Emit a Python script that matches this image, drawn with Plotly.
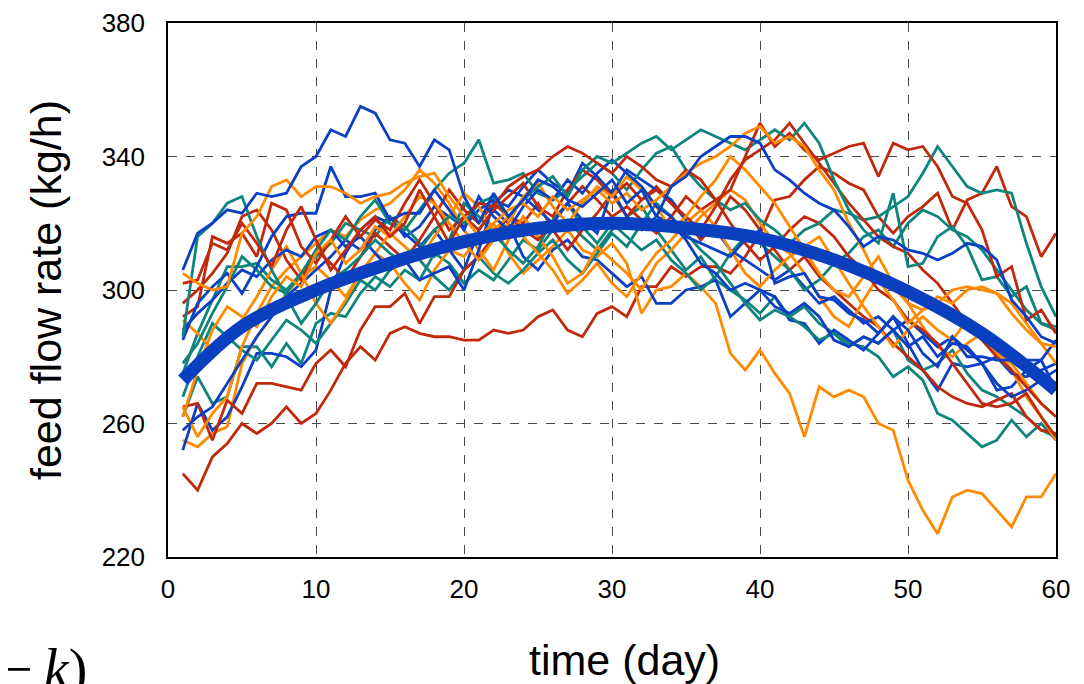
import plotly.graph_objects as go

days = list(range(1, 61))

# blue series
blue_1 = [306,317,320,324,323,329,328,329,337,340,
          348,346,355,353,345,344,337,345,342,328,
          320,329,322,327,333,331,327,325,329,333,
          326,330,322,331,334,340,343,346,346,344,
          336,333,329,326,324,319,313,316,315,312,
          311,309,311,314,313,309,297,292,286,284]
blue_2 = [285,296,301,305,299,307,316,322,323,323,
          337,328,328,329,321,323,323,330,324,318,
          328,322,318,325,330,327,333,329,335,339,
          335,331,325,322,316,314,312,310,315,318,
          302,304,305,298,297,293,291,287,292,288,
          281,277,286,280,280,279,279,279,279,285]
blue_3 = [252,266,258,262,271,281,281,280,277,282,
          300,311,318,322,320,317,313,318,312,306,
          318,324,320,310,306,312,315,310,309,305,
          301,304,296,296,300,301,303,292,296,300,
          298,291,290,284,288,285,282,287,292,284,
          276,270,278,277,278,270,271,276,279,270]
blue_4 = [288,293,297,302,306,304,309,312,310,316,
          318,313,316,311,306,309,303,305,307,300,
          312,326,330,328,324,320,326,321,317,330,
          322,318,322,320,315,308,305,300,302,300,
          295,293,296,292,285,283,286,284,288,283,
          286,280,284,283,278,272,268,270,273,276]
blue_5 = [258,262,265,272,279,286,292,298,302,306,
          310,315,312,318,322,316,319,325,322,319,
          324,327,325,331,336,332,329,338,334,329,
          336,333,330,327,321,316,318,312,309,306,
          303,306,301,296,298,294,290,292,288,291,
          287,283,286,282,278,280,275,274,276,278]

# teal series
teal_1 = [278,284,293,301,310,306,301,299,305,312,
          318,315,322,327,320,318,324,330,335,338,
          345,332,333,335,329,327,330,334,338,335,
          330,336,341,343,336,331,327,324,326,321,
          318,314,318,320,324,323,321,322,325,328,
          335,343,337,331,329,330,329,314,301,292]
teal_2 = [286,316,320,326,328,316,306,298,290,296,
          303,306,310,315,311,308,312,318,322,320,
          326,328,322,327,331,334,328,336,340,338,
          341,344,346,342,345,348,346,344,342,345,
          348,345,350,344,333,324,318,314,329,307,
          308,316,319,313,303,304,298,301,290,288]
teal_3 = [262,274,266,268,283,283,277,284,278,290,
          293,292,299,304,301,306,303,311,308,302,
          306,303,309,315,312,318,321,316,312,318,
          322,325,318,312,306,310,303,300,297,293,
          298,292,295,290,287,284,283,280,274,277,
          273,263,261,257,253,255,261,256,260,255]
teal_4 = [275,287,297,307,307,308,303,300,305,310,
          314,320,318,316,322,319,314,310,315,326,
          322,317,312,308,313,321,326,319,314,320,
          316,312,315,309,305,300,304,311,316,314,
          310,306,300,303,308,311,316,318,313,320,
          324,322,318,316,312,306,300,294,290,289]
teal_5 = [268,280,290,286,282,279,285,291,288,284,
          290,296,303,300,306,311,309,304,300,306,
          310,305,302,306,311,315,309,305,311,317,
          313,320,326,322,317,312,308,302,296,291,
          294,292,289,285,287,283,286,284,288,279,
          276,278,282,275,270,268,265,262,258,256]

# orange series
orange_1 = [305,302,300,301,317,322,331,333,328,331,
            331,329,326,328,329,332,334,335,328,322,
            316,320,324,326,322,328,324,327,330,326,
            329,324,327,331,335,338,340,343,347,349,
            344,346,343,336,330,320,312,303,297,290,
            294,298,296,300,301,299,293,288,284,283]
orange_2 = [265,256,263,268,283,293,301,306,310,314,
            318,316,321,324,326,330,336,332,326,318,
            312,306,315,322,316,310,302,305,313,309,
            305,300,308,312,317,322,326,330,327,320,
            314,311,305,298,292,289,297,304,301,296,
            289,283,280,284,287,282,276,268,262,255]
orange_3 = [255,253,257,259,278,286,292,299,304,307,
            303,298,305,311,308,302,297,306,312,310,
            316,320,311,305,309,313,318,312,310,314,
            308,293,300,301,305,301,296,281,276,282,
            275,269,256,271,268,270,268,260,258,243,
            234,227,238,240,239,234,229,238,238,245]
orange_4 = [262,276,288,295,292,289,298,304,301,311,
            315,308,312,319,316,322,328,326,320,314,
            309,315,320,328,332,325,320,326,331,328,
            334,330,325,318,322,328,333,340,336,331,
            326,319,312,305,300,298,304,310,302,296,
            294,296,300,301,300,299,296,290,284,278]
orange_5 = [291,287,282,284,291,298,306,313,305,296,
            290,297,305,311,317,313,309,316,322,329,
            325,318,322,316,311,306,299,303,308,302,
            298,305,311,315,320,324,319,312,305,301,
            306,310,313,316,309,302,295,289,283,288,
            292,288,285,291,287,281,278,272,266,262]

# red series
red_1 = [245,240,250,254,260,257,260,265,260,263,
         270,278,283,279,287,289,287,286,286,285,
         285,288,287,288,292,294,288,286,293,295,
         292,301,301,307,304,307,307,305,310,317,
         327,328,333,337,335,332,330,322,317,322,
         325,329,318,327,329,337,325,322,310,317]
red_2 = [302,303,314,312,320,314,307,318,325,315,
         306,312,318,322,316,320,330,322,314,322,
         326,325,331,334,336,340,343,341,338,335,
         340,337,333,331,336,333,327,330,340,350,
         343,347,342,339,341,343,344,334,344,342,
         343,337,328,326,318,304,307,291,294,287]
red_3 = [292,295,316,314,317,310,326,324,313,308,
         315,322,316,321,318,326,333,326,318,322,
         318,324,328,332,325,322,330,336,333,328,
         332,327,330,326,322,318,325,333,339,342,
         345,350,344,338,332,326,321,316,313,311,
         306,302,296,290,285,280,276,271,266,262]
red_4 = [265,266,255,267,263,272,272,271,270,278,
         282,277,288,295,295,299,290,298,298,306,
         310,316,322,320,326,318,312,318,323,329,
         322,327,331,326,321,315,320,328,324,318,
         312,306,310,304,300,296,292,289,284,280,
         276,271,268,266,265,267,269,262,258,257]
red_5 = [296,300,305,311,322,324,318,309,303,312,
         308,303,310,317,313,309,315,322,330,324,
         320,326,322,318,315,320,326,331,327,322,
         325,321,317,322,328,324,327,320,314,309,
         313,318,322,320,316,310,306,300,297,291,
         288,284,278,272,266,265,266,269,262,256]

# fitted trend (read at selected days)
fit_days = [1, 5, 10, 15, 20, 25, 30, 35, 40, 45, 50, 55, 60]
fit_values = [273, 289, 300, 308, 314.5, 318.5, 320, 318.6, 315.5, 309, 299.5, 287, 270]

x_ticks = [0, 10, 20, 30, 40, 50, 60]
y_ticks = [220, 260, 300, 340, 380]

BLUE = "#0b3fc4"
TEAL = "#0e857c"
ORANGE = "#ff8a00"
RED = "#c0290b"

series = [
    (teal_3, TEAL), (red_1, RED), (orange_3, ORANGE), (blue_3, BLUE),
    (teal_5, TEAL), (red_4, RED), (orange_2, ORANGE), (blue_5, BLUE),
    (teal_4, TEAL), (red_5, RED), (orange_5, ORANGE), (blue_4, BLUE),
    (teal_1, TEAL), (red_3, RED), (orange_4, ORANGE), (blue_2, BLUE),
    (teal_2, TEAL), (red_2, RED), (orange_1, ORANGE), (blue_1, BLUE),
]

fig = go.Figure()
for vals, col in series:
    fig.add_trace(go.Scatter(x=days, y=vals, mode="lines",
                             line=dict(color=col, width=2.8),
                             showlegend=False, hoverinfo="skip"))

fig.add_trace(go.Scatter(x=fit_days, y=fit_values, mode="lines",
                         line=dict(color="#0a3fc0", width=13, shape="spline"),
                         showlegend=False, hoverinfo="skip"))

axis_common = dict(
    showline=True, linecolor="black", linewidth=1.5, mirror=True,
    showgrid=True, gridcolor="#4a4a4a", griddash="dash", gridwidth=1,
    zeroline=False, ticks="outside", tickcolor="rgba(0,0,0,0)",
    tickfont=dict(family="Liberation Sans, Arial", size=26, color="black"),
)

fig.update_xaxes(range=[0, 60], tickvals=x_ticks, ticklen=8, **axis_common)
fig.update_yaxes(range=[220, 380], tickvals=y_ticks, ticklen=16, **axis_common)

# page body has an 8px margin; figure coordinates below are page - 8
L, T, R, B = 160, 15, 28, 127
W, H = 1076, 676
PW = W - L - R          # 888
PH = H - T - B          # 534

def px(xp):
    return (xp - 8 - L) / PW

def py(yp):
    return (H - B - (yp - 8)) / PH

fig.update_layout(
    width=W, height=H,
    margin=dict(l=L, r=R, t=T, b=B, autoexpand=False),
    paper_bgcolor="white", plot_bgcolor="white",
    font=dict(family="Liberation Sans, Arial", color="black"),
    annotations=[
        dict(text="feed flow rate (kg/h)", xref="paper", yref="paper",
             x=px(46), y=py(290), textangle=-90, showarrow=False,
             font=dict(size=43, family="Liberation Sans, Arial", color="black"),
             xanchor="center", yanchor="middle"),
        dict(text="time (day)", xref="paper", yref="paper",
             x=px(624), y=py(660), showarrow=False,
             font=dict(size=43, family="Liberation Sans, Arial", color="black"),
             xanchor="center", yanchor="middle"),
        dict(text="\u2212\u2009<i>k</i>)", xref="paper", yref="paper",
             x=px(-1), y=py(636), showarrow=False,
             font=dict(size=56, family="Liberation Serif, Times New Roman", color="black"),
             xanchor="left", yanchor="top"),
    ],
)

fig.write_html("out.html")
